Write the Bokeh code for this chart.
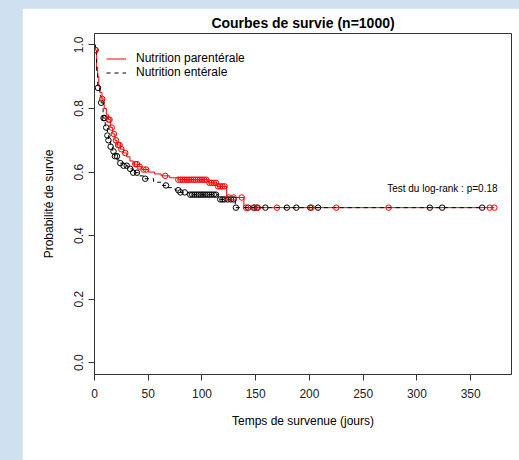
import numpy as np
from bokeh.plotting import figure
from bokeh.models import Range1d, Label, Legend, LegendItem, FixedTicker
from bokeh.layouts import column
from bokeh.embed import file_html
from bokeh.resources import INLINE

# Nutrition parentérale (red, solid)
par_time = [0, 0.8, 2, 3, 4, 5, 7, 9, 11, 13, 15, 17, 19, 21, 24, 27, 30, 33, 36, 40, 44,
            50, 56, 62, 70, 78, 106, 114, 123, 139]
par_surv = [1.0, 0.984, 0.93, 0.90, 0.87, 0.85, 0.83, 0.80, 0.78, 0.765, 0.74, 0.72, 0.70,
            0.685, 0.672, 0.66, 0.648, 0.635, 0.625, 0.617, 0.608, 0.600, 0.594, 0.588,
            0.582, 0.576, 0.566, 0.555, 0.52, 0.488]
par_end = 372
par_cens = [0.9, 7.2, 13, 14, 16, 18, 20, 22, 23.3, 25, 28.6, 38, 39.5, 42, 45.6, 48, 65.8,
            78, 80, 82, 84, 86, 88, 90, 92, 94, 96, 98, 100, 102, 104, 107, 109, 111, 113,
            115, 117, 119, 121, 125, 129.5, 137, 141, 148, 152, 169.8, 202, 225, 273.7,
            367.8, 372]

# Nutrition entérale (black, dashed)
ent_time = [0, 0.8, 2, 3, 5, 6, 8, 10, 12, 13, 15, 17, 19, 21, 24, 27, 31, 36, 41, 47, 55,
            62, 68, 75, 80, 88, 115, 131]
ent_surv = [1.0, 0.984, 0.91, 0.865, 0.84, 0.818, 0.77, 0.74, 0.715, 0.70, 0.68, 0.665,
            0.65, 0.638, 0.628, 0.62, 0.61, 0.598, 0.588, 0.579, 0.568, 0.558, 0.551,
            0.543, 0.536, 0.529, 0.514, 0.488]
ent_end = 360.7
ent_cens = [0.9, 3.2, 6.2, 8.4, 9.5, 10.9, 12, 13, 15, 17.7, 19, 20.9, 24, 27, 30, 33.2,
            36, 39.5, 47.2, 66.5, 78, 80, 84, 89, 91, 93, 95, 97, 99, 101, 103, 105, 107,
            109, 111, 113, 117, 119, 121, 124, 127, 129.5, 131.6, 143, 148.7, 151, 159,
            179, 187.8, 200.8, 208, 312, 323.5, 360.7]

x_ticks = [0, 50, 100, 150, 200, 250, 300, 350]
y_ticks = [0.0, 0.2, 0.4, 0.6, 0.8, 1.0]
y_labels = {0.0: "0.0", 0.2: "0.2", 0.4: "0.4", 0.6: "0.6", 0.8: "0.8", 1.0: "1.0"}

title_text = "Courbes de survie (n=1000)"
xlab = "Temps de survenue (jours)"
ylab = "Probabilité de survie"
logrank_text = "Test du log-rank : p=0.18"

FONT = "Liberation Sans"


def surv_at(times, survs, t):
    idx = np.searchsorted(np.asarray(times), np.asarray(t), side="right") - 1
    return np.asarray(survs)[idx]


p = figure(width=497, height=452, output_backend="svg", toolbar_location=None,
           x_range=Range1d(0, 388), y_range=Range1d(-0.037, 1.036),
           min_border_left=72, min_border_right=8, min_border_top=25, min_border_bottom=86)
p.margin = (8, 0, 0, 22)
p.background_fill_color = "white"
p.border_fill_color = "white"
p.grid.visible = False
p.outline_line_color = "#333333"
p.outline_line_width = 1

p.title.text = title_text
p.title.align = "center"
p.title.text_font = FONT
p.title.text_font_size = "14px"
p.title.text_font_style = "bold"
p.title.text_color = "black"
p.title.offset = 0
p.title.standoff = 6

for ax in (p.xaxis[0], p.yaxis[0]):
    ax.axis_line_color = "#333333"
    ax.major_tick_line_color = "#333333"
    ax.major_tick_out = 6
    ax.major_tick_in = 0
    ax.minor_tick_line_color = None
    ax.major_label_text_font = FONT
    ax.major_label_text_font_size = "12px"
    ax.major_label_text_color = "#222222"
    ax.axis_label_text_font = FONT
    ax.axis_label_text_font_size = "12px"
    ax.axis_label_text_font_style = "normal"
    ax.axis_label_text_color = "black"

p.xaxis.ticker = FixedTicker(ticks=x_ticks)
p.xaxis.axis_label = xlab
p.xaxis.major_label_standoff = 8
p.xaxis.axis_label_standoff = 13

p.yaxis.ticker = FixedTicker(ticks=y_ticks)
p.yaxis.major_label_overrides = y_labels
p.yaxis.major_label_orientation = "vertical"
p.yaxis.axis_label = ylab
p.yaxis.major_label_standoff = 5
p.yaxis.axis_label_standoff = 16

r_par = p.step(x=par_time + [par_end], y=par_surv + [par_surv[-1]], mode="after",
               line_color="#ff0000", line_width=1)
r_ent = p.step(x=ent_time + [ent_end], y=ent_surv + [ent_surv[-1]], mode="after",
               line_color="black", line_width=1, line_dash="4 4")

p.scatter(x=ent_cens, y=surv_at(ent_time, ent_surv, ent_cens), marker="circle", size=5.5,
          fill_color=None, line_color="black", line_width=1)
p.scatter(x=par_cens, y=surv_at(par_time, par_surv, par_cens), marker="circle", size=5.5,
          fill_color=None, line_color="#ff0000", line_width=1)

legend = Legend(items=[LegendItem(label="Nutrition parentérale", renderers=[r_par]),
                       LegendItem(label="Nutrition entérale", renderers=[r_ent])],
                location=(12, 295), orientation="vertical")
legend.border_line_alpha = 0
legend.background_fill_alpha = 0
legend.padding = 0
legend.margin = 0
legend.spacing = 0
legend.glyph_width = 20
legend.glyph_height = 13
legend.label_height = 13
legend.label_standoff = 10
legend.label_text_font = FONT
legend.label_text_font_size = "12px"
legend.label_text_color = "black"
p.add_layout(legend)

p.add_layout(Label(x=375, y=0.549, text=logrank_text, text_align="right",
                   text_baseline="middle", text_font=FONT, text_font_size="10px",
                   text_color="black"))

layout = column(p, width=519, height=460, styles={"background-color": "#cfe0f1"})

open("out.html", "w").write(file_html(layout, INLINE))
